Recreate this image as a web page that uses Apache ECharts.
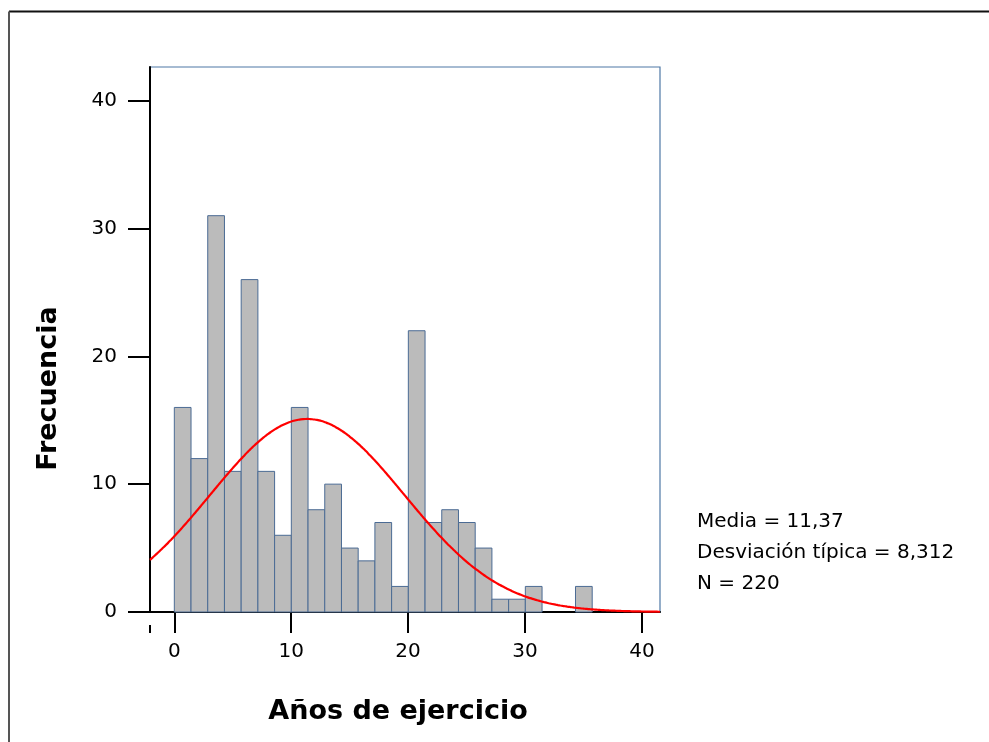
<!DOCTYPE html>
<html><head><meta charset="utf-8">
<script src="https://cdn.jsdelivr.net/npm/echarts@6/dist/echarts.min.js"></script>
<style>html,body{margin:0;padding:0;background:#fff}#c{width:989px;height:742px}</style>
</head><body><div id="c"></div>
<script>
// ---- data ----
const binStart = 0;
const binWidth = 1.43;
const counts = [16, 12, 31, 11, 26, 11, 6, 16, 8, 10, 5, 4, 7, 2, 22, 7, 8, 7, 5, 1, 1, 2, 0, 0, 2];
const xTickValues = [0, 10, 20, 30, 40];
const yTickValues = [0, 10, 20, 30, 40];
const media = 11.37;
const desviacion = 8.312;
const nTotal = 220;
const statsLines = ['Media = 11,37', 'Desviación típica = 8,312', 'N = 220'];
const xTitle = 'Años de ejercicio';
const yTitle = 'Frecuencia';
const xRange = [-2.08, 41.55];
const yRange = [0, 42.63];

// histogram bins built from the counts
const bins = counts.map((c, i) => [binStart + i * binWidth, binStart + (i + 1) * binWidth, c]);

// fitted normal curve (defined by mean, sd, N and bin width shown on the chart)
const curve = [];
for (let k = 0; k <= 220; k++) {
  const x = xRange[0] + (xRange[1] - xRange[0]) * k / 220;
  const z = (x - media) / desviacion;
  const y = nTotal * binWidth / (desviacion * Math.sqrt(2 * Math.PI)) * Math.exp(-0.5 * z * z);
  curve.push([x, y]);
}

const FONT = 'DejaVu Sans';
const chart = echarts.init(document.getElementById('c'), null, {renderer: 'canvas'});
const option = {
  animation: false,
  backgroundColor: '#ffffff',
  grid: {left: 150, right: 329, top: 67, bottom: 130, show: true,
         borderColor: '#4f78a6', borderWidth: 1.2, backgroundColor: 'transparent'},
  xAxis: {
    type: 'value', min: xRange[0], max: xRange[1],
    name: xTitle, nameLocation: 'middle', nameGap: 86,
    nameTextStyle: {fontFamily: FONT, fontSize: 27, fontWeight: 'bold', color: '#000', padding: [0, 14, 0, 0]},
    axisLine: {show: true, onZero: false, lineStyle: {color: '#000', width: 2}},
    axisTick: {show: true, length: 21, lineStyle: {color: '#000', width: 2}, customValues: xTickValues},
    axisLabel: {fontFamily: FONT, fontSize: 20, color: '#000', margin: 30, customValues: xTickValues},
    splitLine: {show: false}
  },
  yAxis: {
    type: 'value', min: yRange[0], max: yRange[1],
    name: yTitle, nameLocation: 'middle', nameGap: 88, nameRotate: 90,
    nameTextStyle: {fontFamily: FONT, fontSize: 27, fontWeight: 'bold', color: '#000', padding: [0, 98, 0, 0]},
    axisLine: {show: true, onZero: false, lineStyle: {color: '#000', width: 2}},
    axisTick: {show: true, length: 22, lineStyle: {color: '#000', width: 2}, customValues: yTickValues},
    axisLabel: {fontFamily: FONT, fontSize: 20, color: '#000', margin: 33, customValues: yTickValues},
    splitLine: {show: false}
  },
  series: [
    {
      type: 'custom',
      data: bins,
      renderItem: function (params, api) {
        const p0 = api.coord([api.value(0), 0]);
        const p1 = api.coord([api.value(1), api.value(2)]);
        if (api.value(2) === 0) return null;
        return {
          type: 'rect',
          shape: {x: p0[0], y: p1[1], width: p1[0] - p0[0], height: p0[1] - p1[1]},
          style: {fill: '#bbbbbb', stroke: '#4b6b94', lineWidth: 1}
        };
      },
      z: 2
    },
    {
      type: 'line', data: curve, showSymbol: false, symbol: 'none', smooth: true,
      lineStyle: {color: '#ff0000', width: 2.2}, z: 3, silent: true
    }
  ],
  graphic: [
    {type: 'line', shape: {x1: 9, y1: 11.5, x2: 989, y2: 11.5}, style: {stroke: '#111', lineWidth: 2}},
    {type: 'line', shape: {x1: 9, y1: 11.5, x2: 9, y2: 742}, style: {stroke: '#555', lineWidth: 2}},
    {type: 'text', left: 697, top: 506,
     style: {text: statsLines.join('\n'), fontFamily: FONT, fontSize: 20, lineHeight: 31, fill: '#000'}}
  ]
};
chart.setOption(option);
// short mark below the axis at the left end of the x axis
const pMin = chart.convertToPixel({xAxisIndex: 0}, xRange[0]);
const pZero = chart.convertToPixel({yAxisIndex: 0}, 0);
chart.setOption({graphic: [
  option.graphic[0], option.graphic[1], option.graphic[2],
  {type: 'line', shape: {x1: pMin, y1: pZero + 13, x2: pMin, y2: pZero + 21}, style: {stroke: '#000', lineWidth: 2}}
]});
</script></body></html>
